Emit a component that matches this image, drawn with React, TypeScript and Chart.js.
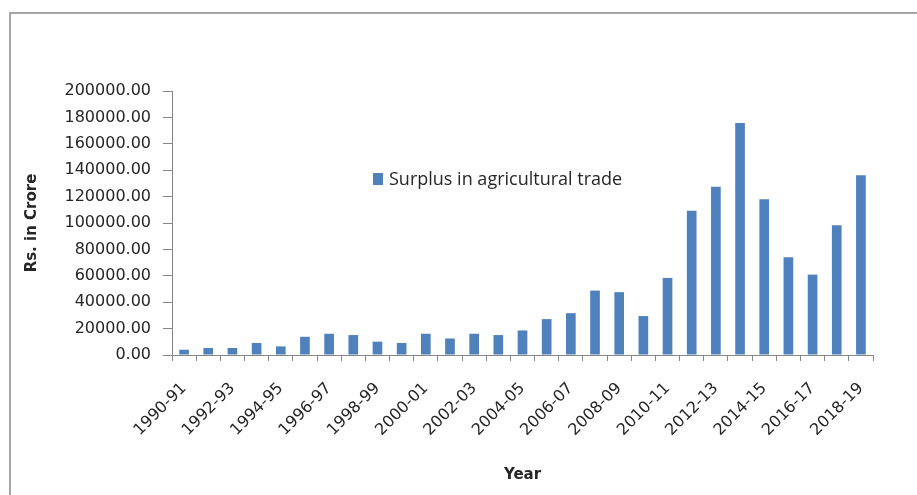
import React, { useEffect, useRef } from "react";
import { Chart, registerables } from "chart.js";

Chart.register(...registerables);

// Financial years on the category axis
const years: string[] = [
  "1990-91", "1991-92", "1992-93", "1993-94", "1994-95", "1995-96",
  "1996-97", "1997-98", "1998-99", "1999-00", "2000-01", "2001-02",
  "2002-03", "2003-04", "2004-05", "2005-06", "2006-07", "2007-08",
  "2008-09", "2009-10", "2010-11", "2011-12", "2012-13", "2013-14",
  "2014-15", "2015-16", "2016-17", "2017-18", "2018-19",
];

// Surplus in agricultural trade, Rs. in crore
const surplus: number[] = [
  4000, 5300, 5300, 9100, 6500, 13800,
  16100, 15100, 10100, 9100, 16100, 12500,
  16100, 15100, 18600, 27200, 31700, 48800,
  47600, 29500, 58400, 109300, 127400, 175800,
  117900, 74100, 60900, 98300, 136100,
];

const seriesLabel = "Surplus in agricultural trade";
const yTitle = "Rs. in Crore";
const xTitle = "Year";

const BAR_COLOR = "#4f81bd";
const AXIS_COLOR = "#868686";
const TEXT_COLOR = "#262626";

// White page with the grey frame around the chart object
const framePlugin = {
  id: "frame",
  beforeDraw(chart: any) {
    const { ctx, width, height } = chart;
    ctx.save();
    ctx.fillStyle = "#ffffff";
    ctx.fillRect(0, 0, width, height);
    ctx.strokeStyle = "#a6a6a6";
    ctx.lineWidth = 2;
    ctx.beginPath();
    ctx.moveTo(10, height);
    ctx.lineTo(10, 13);
    ctx.lineTo(width, 13);
    ctx.stroke();
    ctx.restore();
  },
};

// Legend drawn inside the plot area
const innerLegendPlugin = {
  id: "innerLegend",
  afterDraw(chart: any) {
    const { ctx, chartArea } = chart;
    const ds = chart.data.datasets[0];
    const x = chartArea.left + 201;
    const y = chartArea.top + 88;
    ctx.save();
    ctx.fillStyle = ds.backgroundColor;
    ctx.fillRect(x, y - 6, 10, 12);
    ctx.fillStyle = TEXT_COLOR;
    ctx.font = "18px 'Open Sans'";
    ctx.textBaseline = "middle";
    ctx.textAlign = "left";
    ctx.fillText(ds.label, x + 16, y + 1);
    ctx.restore();
  },
};

export default function App() {
  const canvasRef = useRef<HTMLCanvasElement | null>(null);

  useEffect(() => {
    if (!canvasRef.current) return;
    const chart = new Chart(canvasRef.current, {
      type: "bar",
      data: {
        labels: years,
        datasets: [
          {
            label: seriesLabel,
            data: surplus,
            backgroundColor: BAR_COLOR,
            barPercentage: 0.4,
            categoryPercentage: 1,
          },
        ],
      },
      options: {
        responsive: false,
        animation: false,
        layout: { padding: { top: 91, left: 20, right: 44, bottom: 0 } },
        plugins: {
          legend: { display: false },
          tooltip: { enabled: false },
        },
        scales: {
          x: {
            grid: {
              display: true,
              offset: true,
              drawOnChartArea: false,
              tickLength: 6,
              color: AXIS_COLOR,
            },
            border: { color: AXIS_COLOR, width: 1 },
            ticks: {
              autoSkip: false,
              minRotation: 45,
              maxRotation: 45,
              padding: 18,
              color: TEXT_COLOR,
              font: { family: "'DejaVu Sans'", size: 16 },
              callback: (_v: any, i: number) => (i % 2 === 0 ? years[i] : ""),
            },
            title: {
              display: true,
              text: xTitle,
              color: TEXT_COLOR,
              font: { family: "'DejaVu Sans'", size: 15, weight: "bold" },
              padding: { top: 0, bottom: 11 },
            },
            afterFit: (scale: any) => {
              scale.height = 140;
            },
          },
          y: {
            min: 0,
            max: 200000,
            grid: {
              display: true,
              drawOnChartArea: false,
              tickLength: 9,
              color: AXIS_COLOR,
            },
            border: { color: AXIS_COLOR, width: 1 },
            ticks: {
              stepSize: 20000,
              padding: 12,
              color: TEXT_COLOR,
              font: { family: "'DejaVu Sans'", size: 16 },
              callback: (v: any) => Number(v).toFixed(2),
            },
            title: {
              display: true,
              text: yTitle,
              color: TEXT_COLOR,
              font: { family: "'DejaVu Sans'", size: 15, weight: "bold" },
              padding: { top: 3, bottom: 0 },
            },
            afterFit: (scale: any) => {
              scale.width = 152;
            },
          },
        },
      },
      plugins: [framePlugin, innerLegendPlugin],
    });
    return () => chart.destroy();
  }, []);

  return (
    <div style={{ position: "absolute", left: 0, top: 0, width: 917, height: 495 }}>
      <canvas ref={canvasRef} width={917} height={495} />
    </div>
  );
}
